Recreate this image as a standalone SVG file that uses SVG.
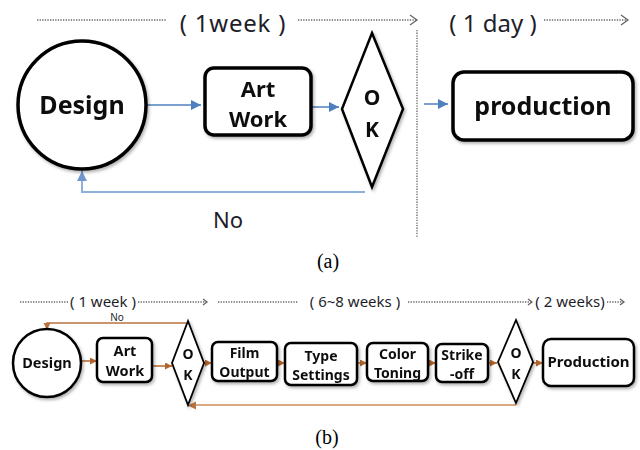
<svg xmlns="http://www.w3.org/2000/svg" width="640" height="450" viewBox="0 0 640 450">
<defs>
<style>
.dot{fill:none;stroke:#666;stroke-width:1.3;stroke-dasharray:1.3 1.3}
.chev{fill:none;stroke:#666;stroke-width:1.3}
.lbl{font-family:"Noto Sans","Open Sans",sans-serif;fill:#1e1e2a}
.nt{font-family:"Noto Sans","Open Sans",sans-serif;font-weight:bold;fill:#111;text-anchor:middle}
.node{fill:#fff;stroke:#000}
.blue{fill:none;stroke:#4f7fbf;stroke-width:1.5}
.fbA{fill:none;stroke:#8eb0dc;stroke-width:2}
.brown{fill:none;stroke:#b2642c;stroke-width:1.5}
.fbB{fill:none;stroke:#b8733f;stroke-width:1.5}
.fbB2{fill:none;stroke:#d9aa80;stroke-width:2}
.cap{font-family:"Liberation Serif",serif;font-size:20px;fill:#000;text-anchor:middle}
</style>
<marker id="ab" markerUnits="userSpaceOnUse" markerWidth="12" markerHeight="12" refX="10" refY="5" orient="auto"><path d="M0,0 L10,5 L0,10 Z" fill="#4f7fbf"/></marker>
<marker id="abl" markerUnits="userSpaceOnUse" markerWidth="12" markerHeight="12" refX="10" refY="5" orient="auto"><path d="M0,0 L10,5 L0,10 Z" fill="#6f97cc"/></marker>
<marker id="br" markerUnits="userSpaceOnUse" markerWidth="8" markerHeight="8" refX="7" refY="3.5" orient="auto"><path d="M0,0 L7,3.5 L0,7 Z" fill="#b2642c"/></marker>
<marker id="br2" markerUnits="userSpaceOnUse" markerWidth="8" markerHeight="8" refX="7" refY="3.5" orient="auto"><path d="M0,0 L7,3.5 L0,7 Z" fill="#b8733f"/></marker>
<filter id="sh" x="-10%" y="-10%" width="125%" height="130%"><feDropShadow dx="1.5" dy="2" stdDeviation="1.5" flood-color="#000" flood-opacity="0.3"/></filter>
</defs>

<!-- (a) timeline -->
<g id="timeline-a">
<line class="dot" x1="37" y1="20" x2="167" y2="20"/>
<text class="lbl" x="233" y="32" font-size="24" text-anchor="middle" letter-spacing="0.8">( 1week )</text>
<line class="dot" x1="298" y1="20" x2="417" y2="20"/>
<polyline class="chev" points="410,15 417,20 410,25"/>
<text class="lbl" x="493" y="32" font-size="24" text-anchor="middle">( 1 day )</text>
<line class="dot" x1="544" y1="20" x2="628" y2="20"/>
<polyline class="chev" points="621,15 628,20 621,25"/>
<line class="dot" x1="417" y1="30" x2="417" y2="237" stroke-width="2"/>
</g>

<g id="connectors-a">
<line class="blue" x1="147" y1="105" x2="201" y2="105" marker-end="url(#ab)"/>
<line class="blue" x1="312" y1="107" x2="339" y2="107" marker-end="url(#ab)"/>
<line class="blue" x1="424" y1="104" x2="448" y2="104" marker-end="url(#ab)"/>
<polyline class="fbA" points="365,192 82,192 82,171" marker-end="url(#abl)"/>
<text class="lbl" x="213" y="228" font-size="22">No</text>
</g>

<g id="design-a" filter="url(#sh)">
<ellipse class="node" cx="82" cy="105" rx="64" ry="64" stroke-width="3.5"/>
<text class="nt" x="82" y="114" font-size="25">Design</text>
</g>
<g id="artwork-a" filter="url(#sh)">
<rect class="node" x="205" y="68" width="106" height="67" rx="9" stroke-width="3.5"/>
<text class="nt" x="258" y="97" font-size="22">Art</text>
<text class="nt" x="258" y="127" font-size="22">Work</text>
</g>
<g id="ok-a" filter="url(#sh)">
<polygon class="node" points="372,33 403,109 372,187 342,109" stroke-width="2.5"/>
<text class="nt" x="372" y="105" font-size="21">O</text>
<text class="nt" x="372" y="137" font-size="21">K</text>
</g>
<g id="production-a" filter="url(#sh)">
<rect class="node" x="453" y="72" width="180" height="68" rx="11" stroke-width="3.5"/>
<text class="nt" x="543" y="115" font-size="25">production</text>
</g>

<text class="cap" x="328" y="268">(a)</text>

<!-- (b) timeline -->
<g id="timeline-b">
<line class="dot" x1="20" y1="302" x2="68" y2="302" stroke-width="1"/>
<text class="lbl" x="103" y="307" font-size="15" text-anchor="middle">( 1 week )</text>
<line class="dot" x1="138" y1="302" x2="207" y2="302" stroke-width="1"/>
<polyline class="chev" points="203,299 207,302 203,305" stroke-width="1"/>
<line class="dot" x1="218" y1="302" x2="298" y2="302" stroke-width="1"/>
<text class="lbl" x="355" y="307" font-size="15" text-anchor="middle">( 6~8 weeks )</text>
<line class="dot" x1="408" y1="302" x2="532" y2="302" stroke-width="1"/>
<polyline class="chev" points="528,299 532,302 528,305" stroke-width="1"/>
<text class="lbl" x="570" y="307" font-size="15" text-anchor="middle">( 2 weeks)</text>
<line class="dot" x1="607" y1="302" x2="624" y2="302" stroke-width="1"/>
<polyline class="chev" points="620,299 624,302 620,305" stroke-width="1"/>
</g>

<g id="connectors-b">
<polyline class="fbB" points="186,323 47,323 47,330" marker-end="url(#br2)"/>
<text class="lbl" x="117" y="320.5" font-size="10" text-anchor="middle">No</text>
<line class="brown" x1="81" y1="361" x2="97" y2="361" marker-end="url(#br)"/>
<line class="brown" x1="152" y1="366" x2="172" y2="366" marker-end="url(#br)"/>
<line class="brown" x1="204" y1="363" x2="212" y2="363" marker-end="url(#br)"/>
<line class="brown" x1="277" y1="363" x2="285" y2="363" marker-end="url(#br)"/>
<line class="brown" x1="357" y1="363" x2="367" y2="363" marker-end="url(#br)"/>
<line class="brown" x1="428" y1="363" x2="436" y2="363" marker-end="url(#br)"/>
<line class="brown" x1="488" y1="363" x2="497" y2="363" marker-end="url(#br)"/>
<line class="brown" x1="533" y1="363" x2="543" y2="363" marker-end="url(#br)"/>
<line class="fbB2" x1="516" y1="405" x2="196" y2="405"/>
<path d="M188,405.5 L196,401.5 L196,409.5 Z" fill="#b8733f"/>
</g>

<g id="design-b" filter="url(#sh)">
<circle class="node" cx="47" cy="363" r="34" stroke-width="2.5"/>
<text class="nt" x="47" y="368" font-size="14.5">Design</text>
</g>
<g id="artwork-b" filter="url(#sh)">
<rect class="node" x="97" y="338" width="55" height="44" rx="6" stroke-width="2.5"/>
<text class="nt" x="125" y="356" font-size="14.5">Art</text>
<text class="nt" x="125" y="376" font-size="14.5">Work</text>
</g>
<g id="ok1-b" filter="url(#sh)">
<polygon class="node" points="188,321 204,363 188,405 172,363" stroke-width="1.8"/>
<text class="nt" x="188" y="359" font-size="14">O</text>
<text class="nt" x="188" y="380" font-size="14">K</text>
</g>
<g id="film-b" filter="url(#sh)">
<rect class="node" x="212" y="342" width="65" height="39" rx="6" stroke-width="2.5"/>
<text class="nt" x="244.5" y="358" font-size="14">Film</text>
<text class="nt" x="244.5" y="377" font-size="14">Output</text>
</g>
<g id="type-b" filter="url(#sh)">
<rect class="node" x="285" y="343" width="72" height="42" rx="6" stroke-width="2.5"/>
<text class="nt" x="321" y="361" font-size="14">Type</text>
<text class="nt" x="321" y="380" font-size="14">Settings</text>
</g>
<g id="color-b" filter="url(#sh)">
<rect class="node" x="367" y="343" width="61" height="38" rx="6" stroke-width="2.5"/>
<text class="nt" x="397.5" y="359" font-size="14">Color</text>
<text class="nt" x="397.5" y="378" font-size="14">Toning</text>
</g>
<g id="strike-b" filter="url(#sh)">
<rect class="node" x="436" y="344" width="52" height="38" rx="6" stroke-width="2.5"/>
<text class="nt" x="462" y="360" font-size="14">Strike</text>
<text class="nt" x="462" y="379" font-size="14">-off</text>
</g>
<g id="ok2-b" filter="url(#sh)">
<polygon class="node" points="516,320 533,362 516,403 498,362" stroke-width="1.8"/>
<text class="nt" x="516" y="358" font-size="14">O</text>
<text class="nt" x="516" y="379" font-size="14">K</text>
</g>
<g id="production-b" filter="url(#sh)">
<rect class="node" x="543" y="339" width="91" height="47" rx="8" stroke-width="2.5"/>
<text class="nt" x="588.5" y="367" font-size="15">Production</text>
</g>

<text class="cap" x="327" y="444">(b)</text>
</svg>
